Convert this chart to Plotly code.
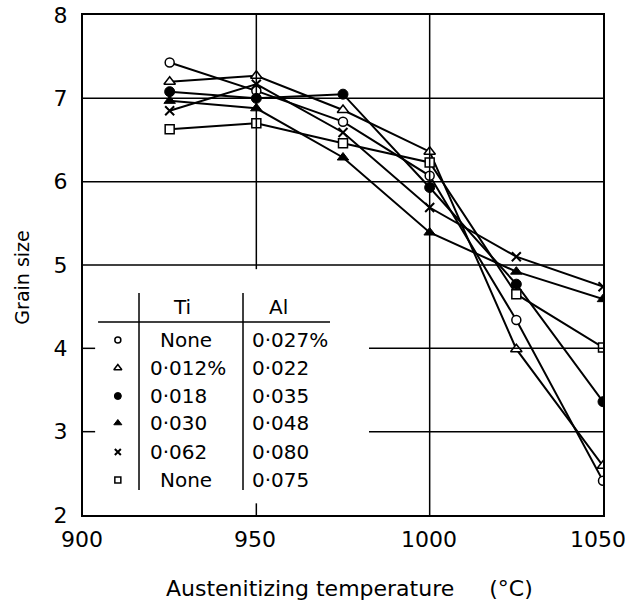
import plotly.graph_objects as go

# ---- data ----
temps = [925, 950, 975, 1000, 1025, 1050]
s_open_circle = [7.43, 7.09, 6.72, 6.07, 4.34, 2.41]
s_open_tri = [7.20, 7.27, 6.86, 6.36, 3.99, 2.59]
s_filled_circle = [7.08, 7.00, 7.05, 5.93, 4.77, 3.36]
s_filled_tri = [6.97, 6.88, 6.29, 5.39, 4.92, 4.59]
s_cross = [6.85, 7.17, 6.59, 5.69, 5.10, 4.74]
s_square = [6.63, 6.70, 6.46, 6.23, 4.65, 4.01]

ti_labels = ["None", "0·012%", "0·018", "0·030", "0·062", "None"]
al_labels = ["0·027%", "0·022", "0·035", "0·048", "0·080", "0·075"]

x_ticks = [900, 950, 1000, 1050]
y_ticks = [2, 3, 4, 5, 6, 7, 8]

FONT = "DejaVu Sans"
TFS = 20  # table font size

series = [
    (s_open_circle, dict(symbol="circle", color="white", size=9, line=dict(color="black", width=1.5))),
    (s_open_tri, dict(symbol="triangle-up", color="white", size=10, line=dict(color="black", width=1.5))),
    (s_filled_circle, dict(symbol="circle", color="black", size=10, line=dict(color="black", width=1))),
    (s_filled_tri, dict(symbol="triangle-up", color="black", size=10, line=dict(color="black", width=1))),
    (s_cross, dict(symbol="x-thin", color="black", size=9, line=dict(color="black", width=2))),
    (s_square, dict(symbol="square", color="white", size=9, line=dict(color="black", width=1.5))),
]

fig = go.Figure()
for vals, mk in series:
    fig.add_trace(go.Scatter(x=temps, y=vals, mode="lines+markers",
                             line=dict(color="black", width=2),
                             marker=mk, showlegend=False, hoverinfo="skip"))

# ---- legend table (key symbols on an overlay 0..1 axis) ----
row_y = [0.35, 0.294, 0.238, 0.184, 0.126, 0.07]
key_x = 0.067
for (vals, mk), ry in zip(series, row_y):
    small = dict(mk)
    small["size"] = max(6, mk["size"] - 3)
    fig.add_trace(go.Scatter(x=[key_x], y=[ry], mode="markers", marker=small,
                             xaxis="x2", yaxis="y2", showlegend=False, hoverinfo="skip"))

annotations = []
for t, a, ry in zip(ti_labels, al_labels, row_y):
    if t == "None":
        annotations.append(dict(x=0.198, y=ry, xref="paper", yref="paper", text=t,
                                showarrow=False, xanchor="center", yanchor="middle",
                                font=dict(family=FONT, size=TFS, color="black")))
    else:
        annotations.append(dict(x=0.125, y=ry, xref="paper", yref="paper", text=t,
                                showarrow=False, xanchor="left", yanchor="middle",
                                font=dict(family=FONT, size=TFS, color="black")))
    annotations.append(dict(x=0.322, y=ry, xref="paper", yref="paper", text=a,
                            showarrow=False, xanchor="left", yanchor="middle",
                            font=dict(family=FONT, size=TFS, color="black")))
annotations.append(dict(x=0.19, y=0.416, xref="paper", yref="paper", text="Ti",
                        showarrow=False, xanchor="center", yanchor="middle",
                        font=dict(family=FONT, size=TFS, color="black")))
annotations.append(dict(x=0.375, y=0.416, xref="paper", yref="paper", text="Al",
                        showarrow=False, xanchor="center", yanchor="middle",
                        font=dict(family=FONT, size=TFS, color="black")))
# x tick labels (annotations so the last one is not dropped at the page edge)
for xv in x_ticks:
    annotations.append(dict(x=xv, y=0, xref="x", yref="paper", text=str(xv),
                            showarrow=False, xanchor="center", yanchor="top", yshift=-10,
                            xshift=(-5 if xv == x_ticks[-1] else -1),
                            font=dict(family=FONT, size=22, color="black")))
# axis titles
annotations.append(dict(x=0.512, y=-0.146, xref="paper", yref="paper",
                        text="Austenitizing temperature\u00a0\u00a0\u00a0\u00a0\u00a0(°C)",
                        showarrow=False, xanchor="center", yanchor="middle",
                        font=dict(family=FONT, size=22, color="black")))
annotations.append(dict(x=-0.118, y=0.474, xref="paper", yref="paper", text="Grain size",
                        showarrow=False, xanchor="center", yanchor="middle", textangle=-90,
                        font=dict(family=FONT, size=19, color="black")))

shapes = []
line_style = dict(color="black", width=1.5)
# horizontal grid lines
for yv in [5, 6, 7]:
    shapes.append(dict(type="line", xref="x", yref="y", x0=900, x1=1050, y0=yv, y1=yv, line=line_style))
for yv in [3, 4]:
    shapes.append(dict(type="line", xref="x", yref="y", x0=982.5, x1=1050, y0=yv, y1=yv, line=line_style))
    shapes.append(dict(type="line", xref="x", yref="y", x0=900, x1=903.5, y0=yv, y1=yv, line=line_style))
# vertical grid lines
shapes.append(dict(type="line", xref="x", yref="y", x0=1000, x1=1000, y0=2, y1=8, line=line_style))
shapes.append(dict(type="line", xref="x", yref="y", x0=950, x1=950, y0=4.95, y1=8, line=line_style))
shapes.append(dict(type="line", xref="x", yref="y", x0=950, x1=950, y0=2, y1=2.14, line=line_style))
# table rules
shapes.append(dict(type="line", xref="paper", yref="paper", x0=0.1077, x1=0.1077, y0=0.05, y1=0.444, line=line_style))
shapes.append(dict(type="line", xref="paper", yref="paper", x0=0.3077, x1=0.3077, y0=0.05, y1=0.444, line=line_style))
shapes.append(dict(type="line", xref="paper", yref="paper", x0=0.029, x1=0.475, y0=0.386, y1=0.386, line=line_style))

fig.update_layout(
    width=627, height=601,
    margin=dict(l=83, r=24, t=15, b=86, autoexpand=False),
    paper_bgcolor="white", plot_bgcolor="white",
    font=dict(family=FONT, size=22, color="black"),
    xaxis=dict(range=[900, 1050], tickvals=x_ticks, showticklabels=False,
               showgrid=False, zeroline=False, showline=True, linecolor="black", linewidth=2,
               mirror=True, ticks="", automargin=False),
    yaxis=dict(range=[2, 8], tickvals=y_ticks, ticktext=[str(v) for v in y_ticks],
               showgrid=False, zeroline=False, showline=True, linecolor="black", linewidth=2,
               mirror=True, ticks="", ticklabelstandoff=9, automargin=False,
               tickfont=dict(family=FONT, size=22, color="black")),
    xaxis2=dict(range=[0, 1], overlaying="x", visible=False, fixedrange=True),
    yaxis2=dict(range=[0, 1], overlaying="y", visible=False, fixedrange=True),
    annotations=annotations,
    shapes=shapes,
)

fig.write_html("out.html", config={"displayModeBar": False},
               post_script="document.body.style.margin='0';document.body.style.overflow='hidden';")
